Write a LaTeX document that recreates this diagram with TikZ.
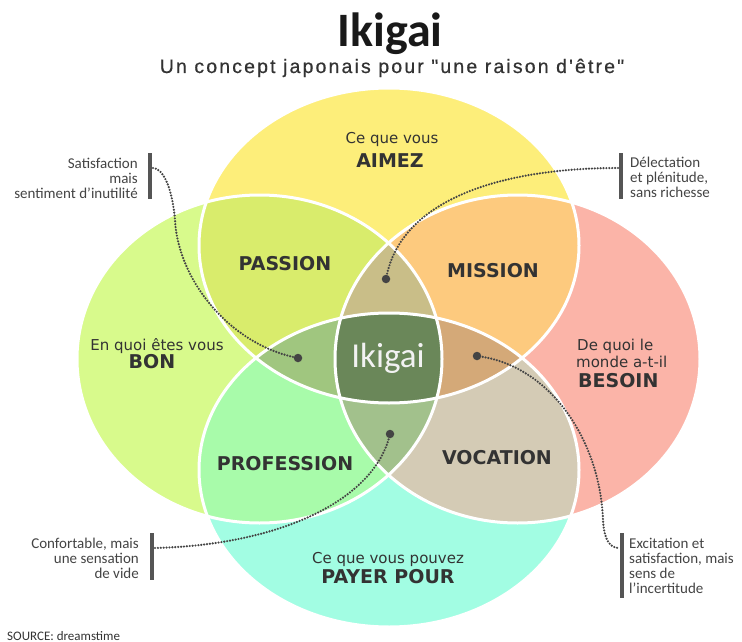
\documentclass[tikz,border=0pt]{standalone}
\usepackage{fontspec}
\newfontfamily\titlefont{Carlito}
\newfontfamily\labfont{DejaVu Sans}
\newfontfamily\subfont{Liberation Sans}[LetterSpace=11,FakeBold=0.6]
\newfontfamily\notefont{Carlito}
\definecolor{cTop}{HTML}{FDEE7A}
\definecolor{cLeft}{HTML}{D8FA8C}
\definecolor{cRight}{HTML}{FBB4A8}
\definecolor{cBot}{HTML}{A2FDE3}
\definecolor{cTL}{HTML}{D9EC6C}
\definecolor{cTR}{HTML}{FDCA7E}
\definecolor{cBL}{HTML}{A8FBAA}
\definecolor{cBR}{HTML}{D4CBB5}
\definecolor{cTBL}{HTML}{A0C67F}
\definecolor{cTLR}{HTML}{C9BE88}
\definecolor{cTBR}{HTML}{D4A978}
\definecolor{cBLR}{HTML}{A2C18C}
\definecolor{cAll}{HTML}{6A8759}
\definecolor{cText}{HTML}{333333}
\definecolor{cNote}{HTML}{444444}
\definecolor{cDot}{HTML}{444444}
\definecolor{cBar}{HTML}{555555}
\begin{document}
\begin{tikzpicture}[x=1pt,y=-1pt,
  etop/.style={insert path={(389,245.5) ellipse [x radius=190pt, y radius=157.5pt]}},
  ebot/.style={insert path={(389,470) ellipse [x radius=190pt, y radius=157pt]}},
  eleft/.style={insert path={(259.5,359) ellipse [x radius=182.5pt, y radius=164pt]}},
  eright/.style={insert path={(517.5,359) ellipse [x radius=182.5pt, y radius=164pt]}},
  outline/.style={draw=white, line width=3pt},
  reglab/.style={inner sep=0pt, anchor=base, text=cText, font=\labfont\fontsize{15}{18}\selectfont},
  boldlab/.style={inner sep=0pt, anchor=base, text=cText, font=\labfont\bfseries\fontsize{19}{22}\selectfont},
  note/.style={inner sep=0pt, text=cNote, font=\notefont\fontsize{15}{15}\selectfont},
  dotn/.style={circle, fill=cDot, inner sep=0pt, minimum size=8.5pt},
  dotline/.style={draw=cDot, line width=2.4pt, dash pattern=on 0pt off 2.9pt, line cap=round},
  barline/.style={draw=cBar, line width=4pt}]
\fill[white] (0,0) rectangle (742,642);
\useasboundingbox (0,0) rectangle (742,642);
% base circles
\fill[cTop, etop];
\fill[cLeft, eleft];
\fill[cRight, eright];
\fill[cBot, ebot];
% pairs
\begin{scope}\clip[etop]; \fill[cTL, eleft]; \end{scope}
\begin{scope}\clip[etop]; \fill[cTR, eright]; \end{scope}
\begin{scope}\clip[ebot]; \fill[cBL, eleft]; \end{scope}
\begin{scope}\clip[ebot]; \fill[cBR, eright]; \end{scope}
% triples
\begin{scope}\clip[etop]; \clip[ebot]; \fill[cTBL, eleft]; \end{scope}
\begin{scope}\clip[etop]; \clip[ebot]; \fill[cTBR, eright]; \end{scope}
\begin{scope}\clip[eleft]; \clip[eright]; \fill[cTLR, etop]; \end{scope}
\begin{scope}\clip[eleft]; \clip[eright]; \fill[cBLR, ebot]; \end{scope}
% centre
\begin{scope}\clip[etop]; \clip[ebot]; \clip[eleft]; \fill[cAll, eright]; \end{scope}
% outlines
\path[outline, etop];
\path[outline, ebot];
\path[outline, eleft];
\path[outline, eright];
% title
\node[inner sep=0pt, anchor=base, text=black!90] (title) at (390,47) {\titlefont\bfseries\fontsize{48}{50}\selectfont Ikigai};
\node[inner sep=0pt, anchor=base, text=cText] (subtitle) at (392,73) {\subfont\fontsize{19.5}{22}\selectfont Un concept japonais pour "une raison d'être"};
% circle labels
\node[reglab] (aimez1) at (392,143) {Ce que vous};
\node[boldlab] (aimez2) at (390,167) {AIMEZ};
\node[reglab] (bon1) at (157,350) {En quoi êtes vous};
\node[boldlab] (bon2) at (152,368) {BON};
\node[reglab, anchor=base west] (bes1) at (577,350) {De quoi le};
\node[reglab, anchor=base west] (bes2) at (576,367) {monde a-t-il};
\node[boldlab, anchor=base west] (bes3) at (578,387) {BESOIN};
\node[reglab] (pay1) at (388,563) {Ce que vous pouvez};
\node[boldlab] (pay2) at (388,583) {PAYER POUR};
\node[boldlab] (passion) at (285,270) {PASSION};
\node[boldlab] (mission) at (493,277) {MISSION};
\node[boldlab] (profession) at (285,470) {PROFESSION};
\node[boldlab] (vocation) at (497,464) {VOCATION};
\node[inner sep=0pt, anchor=base, text=white!95!black] (ikigai) at (388,367) {\titlefont\fontsize{35}{38}\selectfont Ikigai};
% annotation notes
\node[note, anchor=east, align=right] (ntl) at (138,178) {Satisfaction\\mais\\sentiment d’inutilité};
\node[note, anchor=west, align=left] (ntr) at (630,177) {Délectation\\et plénitude,\\sans richesse};
\node[note, anchor=east, align=right] (nbl) at (139,558) {Confortable, mais\\une sensation\\de vide};
\node[note, anchor=west, align=left] (nbr) at (629,566) {Excitation et\\satisfaction, mais\\sens de\\l’incertitude};
% bars
\coordinate (b1t) at (150,153); \coordinate (b1b) at (150,199);
\coordinate (b2t) at (621,153); \coordinate (b2b) at (621,199);
\coordinate (b3t) at (152,533); \coordinate (b3b) at (152,580);
\coordinate (b4t) at (622,533); \coordinate (b4b) at (622,598);
\draw[barline] (b1t) -- (b1b);
\draw[barline] (b2t) -- (b2b);
\draw[barline] (b3t) -- (b3b);
\draw[barline] (b4t) -- (b4b);
\coordinate (b1) at (153,168);
\coordinate (b2) at (618,168);
\coordinate (b3) at (155,548);
\coordinate (b4) at (619,548);
% dots
\node[dotn] (d1) at (298,358) {};
\node[dotn] (d2) at (386,279) {};
\node[dotn] (d3) at (390,434) {};
\node[dotn] (d4) at (477,356) {};
% connectors
\draw[dotline] (b1) .. controls (162,168) and (172,185) .. (175,220) .. controls (178,280) and (230,345) .. (d1.center);
\draw[dotline] (b2) .. controls (500,168) and (400,200) .. (d2.center);
\draw[dotline] (b3) .. controls (280,545) and (375,500) .. (d3.center);
\draw[dotline] (d4.center) .. controls (550,365) and (600,440) .. (603,520) .. controls (604,540) and (610,548) .. (b4);
% source
\node[inner sep=0pt, anchor=base west, text=cText] (source) at (7,640) {\notefont\fontsize{13}{14}\selectfont SOURCE: dreamstime};
\end{tikzpicture}
\end{document}
